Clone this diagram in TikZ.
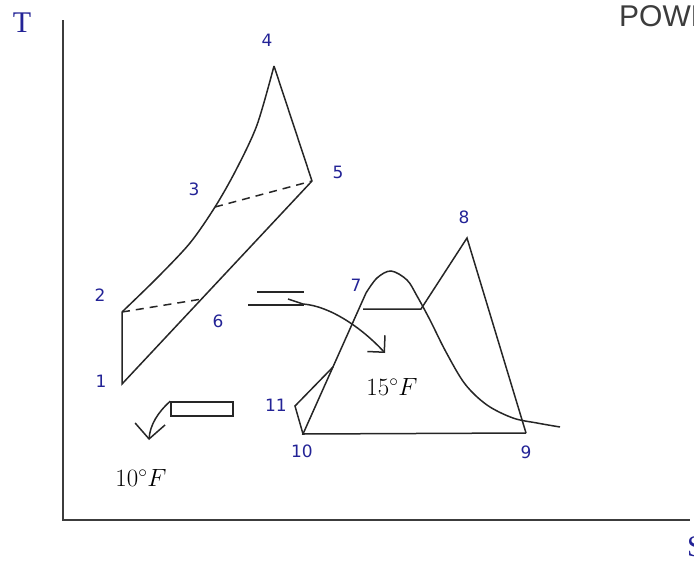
\documentclass[tikz,border=0pt]{standalone}
\usepackage{fontspec}
\setmainfont{Liberation Serif}
\newfontfamily\ptfont{DejaVu Sans}
\newfontfamily\capfont{Liberation Sans}
\usepackage{tikz}
\usetikzlibrary{arrows.meta}
\definecolor{ptblue}{RGB}{35,35,150}
\definecolor{axgray}{RGB}{60,60,60}
\tikzset{
  stpt/.style={text=ptblue, inner sep=0pt, font=\ptfont\fontsize{17}{17}\selectfont},
  line/.style={line width=1.5pt, black!85},
  temp/.style={inner sep=0pt, font=\fontsize{25}{25}\selectfont},
  barb/.style={-{Straight Barb[length=12pt, width=24pt]}}
}

\begin{document}
\begin{tikzpicture}[x=1pt, y=-1pt]
    \useasboundingbox (0,0) rectangle (694,563);
    \clip (0,0) rectangle (694,563);
    % axes
    \coordinate (o) at (63,520);
    \coordinate (ytop) at (63,20);
    \coordinate (xend) at (690,520);
    \draw[axgray, line width=2pt] (ytop) -- (o) -- (xend);
    \node[text=ptblue, inner sep=0pt, font=\fontsize{30}{30}\selectfont] (tlab) at (22,23) {T};
    \node[text=ptblue, inner sep=0pt, anchor=north west, font=\fontsize{30}{30}\selectfont] (slab) at (687,536) {S};
    \node[text=axgray, inner sep=0pt, anchor=base west, font=\capfont\fontsize{30}{30}\selectfont] (title) at (619,26) {POWER};

    % topping cycle
    \coordinate (p1) at (122,384);
    \coordinate (p2) at (122,312);
    \coordinate (p3) at (215,207);
    \coordinate (p4) at (274,66);
    \coordinate (p5) at (312,181);
    \coordinate (p6) at (202,299);
    \draw[line] (p5) -- (p1) -- (p2);
    \draw[line] plot[smooth, tension=.5] coordinates {(p2) (157,278) (190,243) (p3) (236,170) (257,125) (p4)};
    \draw[line] (p4) -- (p5);
    \draw[line, dash pattern=on 8pt off 6pt] (p2) -- (p6);
    \draw[line, dash pattern=on 8pt off 6pt] (p3) -- (p5);

    % bottoming cycle
    \coordinate (p7) at (366,293);
    \coordinate (p8) at (467,238);
    \coordinate (p9) at (526,433);
    \coordinate (p10) at (303,434);
    \coordinate (p11) at (295,406);
    \coordinate (m11) at (333,367);
    \coordinate (f7) at (363,309);
    \coordinate (f9) at (421,309);
    \draw[line] (p9) -- (p10) -- (p7);
    \draw[line] (p10) -- (p11) -- (m11);
    \draw[line] (f7) -- (f9) -- (p8) -- (p9);
    % saturation dome
    \draw[line] plot[smooth, tension=.55] coordinates {(p7) (377,278) (391,271) (407,280) (417,296) (430,320) (446,352) (465,384) (487,405) (513,418) (537,423) (560,427)};

    % state labels
    \node[stpt] (n1) at (101,381) {1};
    \node[stpt] (n2) at (100,295) {2};
    \node[stpt] (n3) at (194,189) {3};
    \node[stpt] (n4) at (267,40) {4};
    \node[stpt] (n5) at (338,172) {5};
    \node[stpt] (n6) at (218,321) {6};
    \node[stpt] (n7) at (356,285) {7};
    \node[stpt] (n8) at (464,217) {8};
    \node[stpt] (n9) at (526,452) {9};
    \node[stpt] (n10) at (302,451) {10};
    \node[stpt] (n11) at (276,405) {11};

    % heat exchanger 6 -> 7
    \coordinate (ha) at (257,292);
    \coordinate (hb) at (304,292);
    \coordinate (hc) at (248,305);
    \coordinate (hd) at (304,305);
    \draw[line] (ha) -- (hb);
    \draw[line] (hc) -- (hd);
    \coordinate (s15) at (288,299);
    \coordinate (t15) at (385,353);
    \draw[line, barb] (s15) -- (303,304) .. controls (330,306) and (362,328) .. (t15);
    \node[temp] (d15) at (392,387) {$15^{\circ}F$};

    % heat exchanger 1 -> 10
    \node[draw, line, minimum width=62pt, minimum height=14pt, inner sep=0pt] (hx) at (202,409) {};
    \coordinate (t10) at (149,440);
    \draw[line, -{Straight Barb[length=15pt, width=30pt]}] (hx.north west) .. controls (158,412) and (150,425) .. (t10);
    \node[temp] (d10) at (141,478) {$10^{\circ}F$};
\end{tikzpicture}
\end{document}
